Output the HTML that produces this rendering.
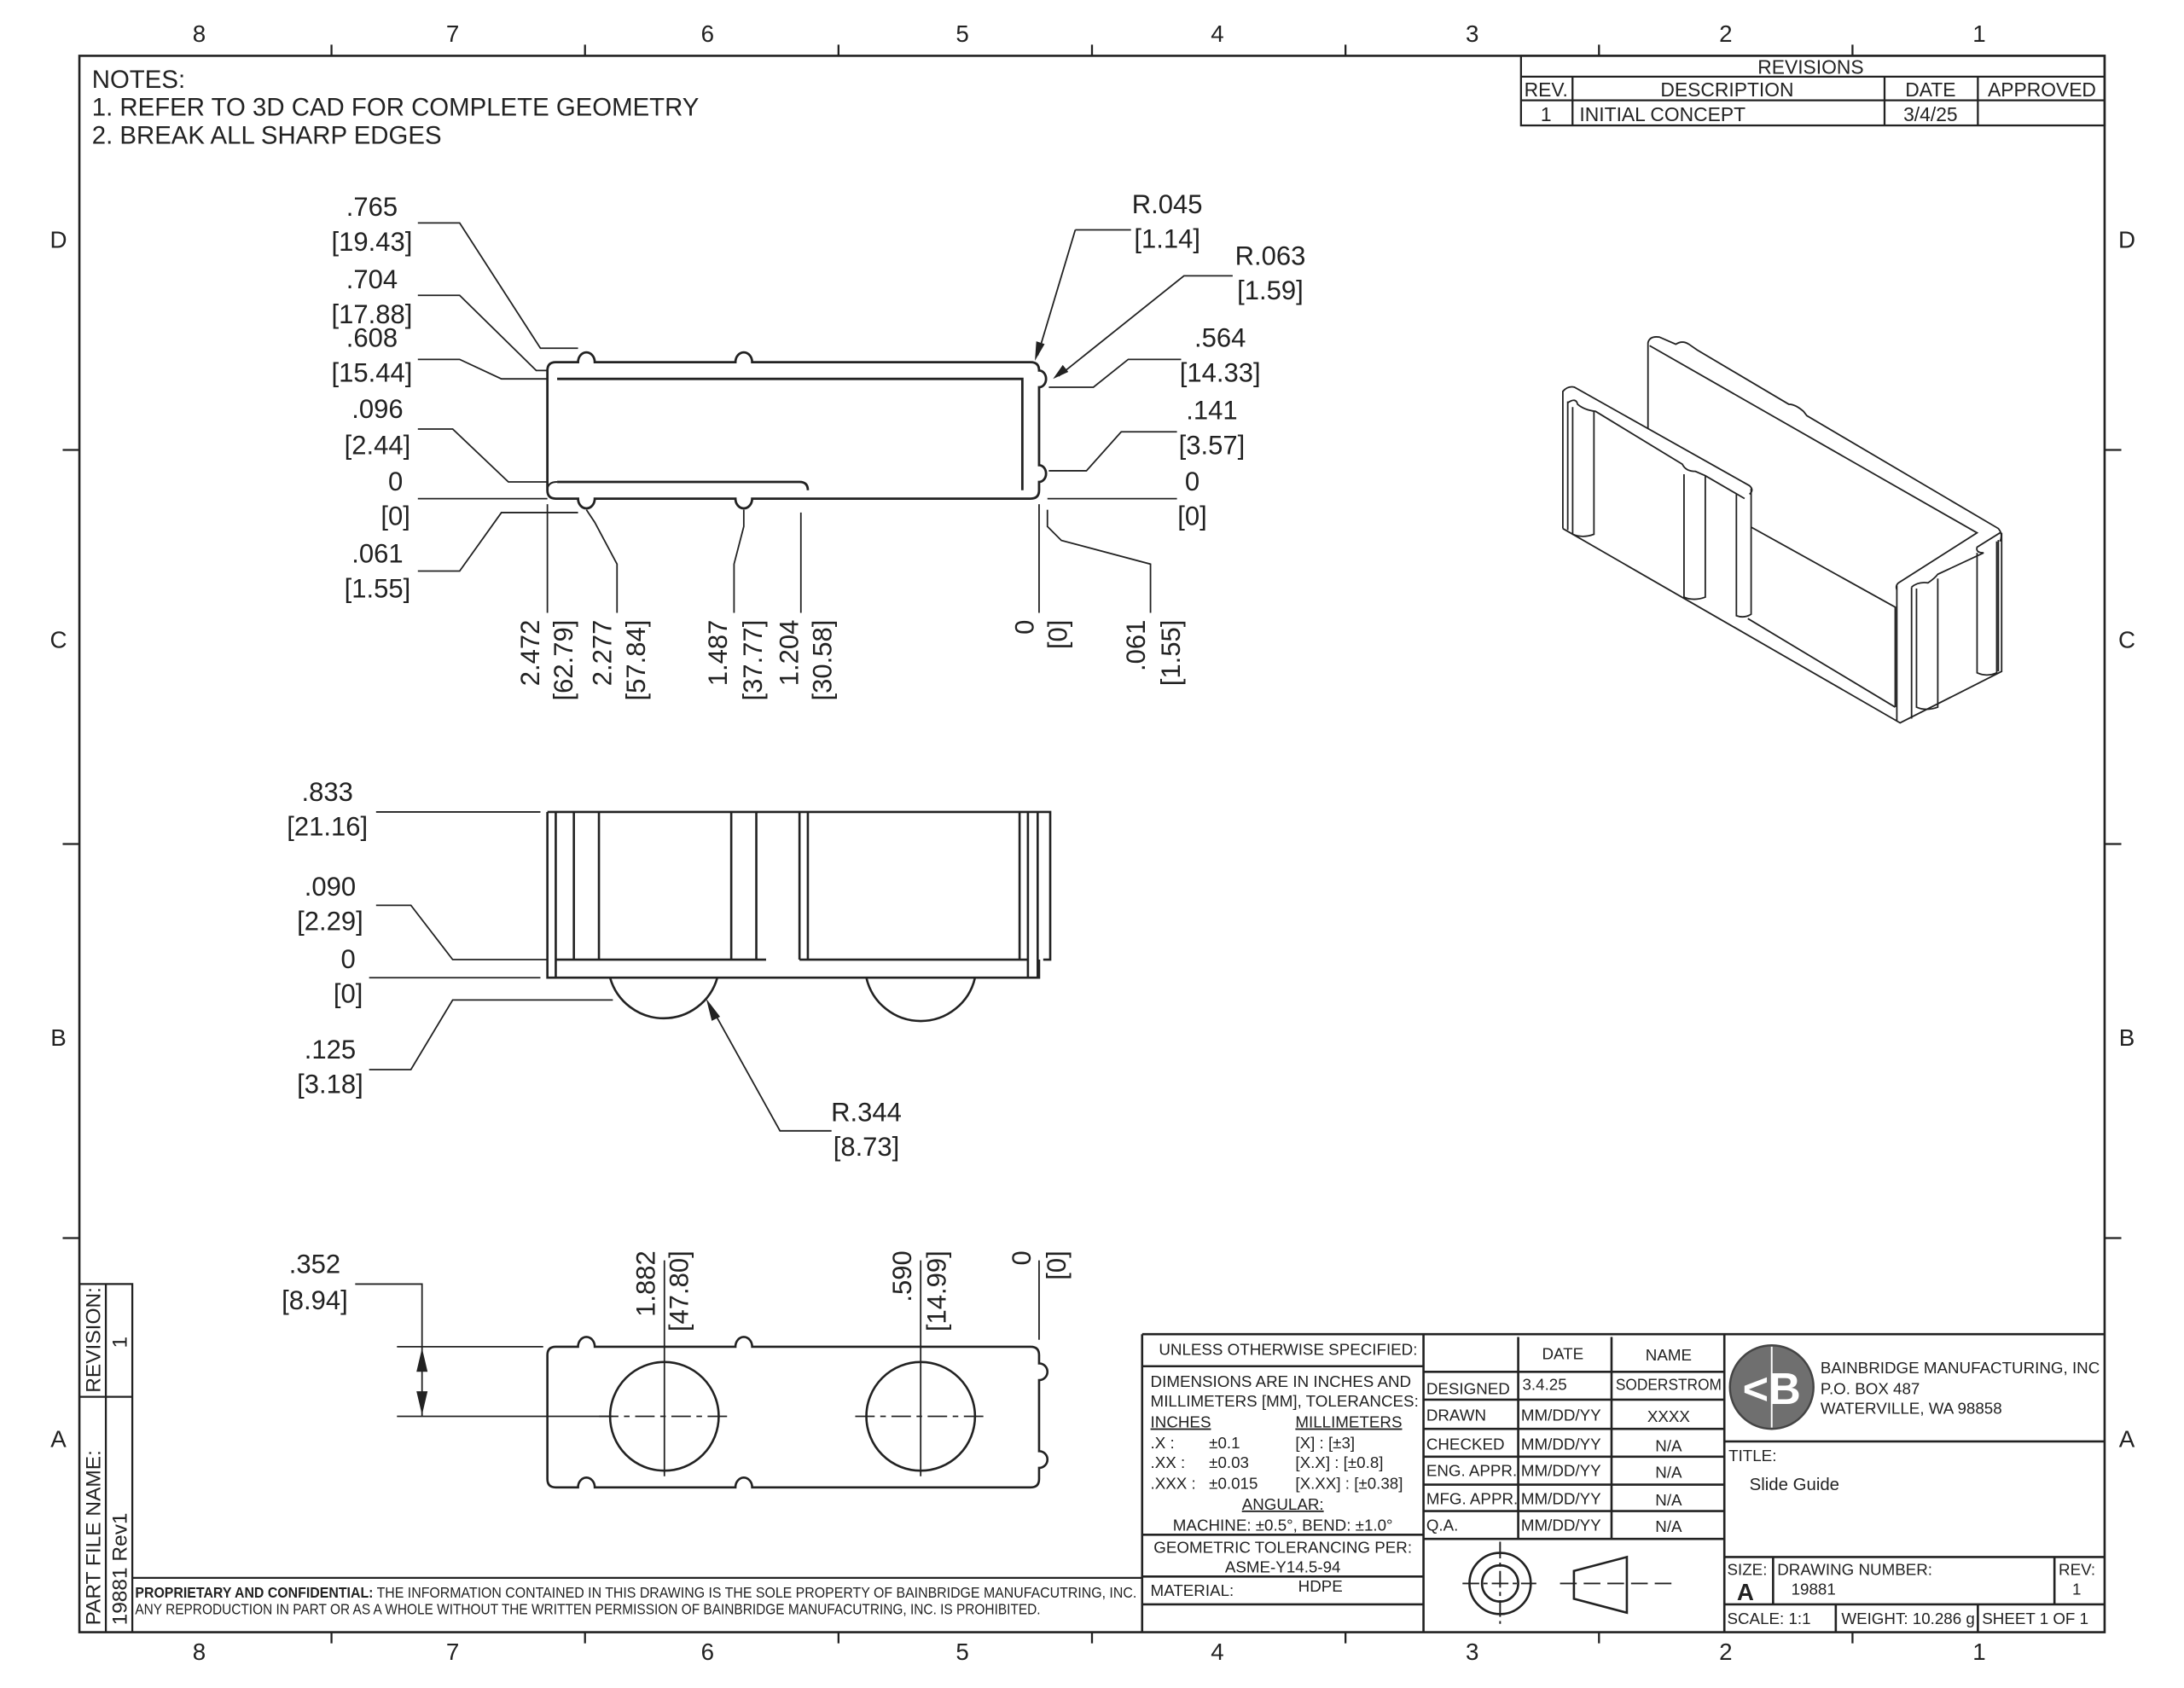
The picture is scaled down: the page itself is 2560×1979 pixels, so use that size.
<!DOCTYPE html>
<html><head><meta charset="utf-8"><style>
html,body{margin:0;padding:0;background:#fff;}
svg{display:block;}
text{font-family:"Liberation Sans",sans-serif;fill:#222;}
</style></head><body>
<svg width="2560" height="1979" viewBox="0 0 1568 1212" xmlns="http://www.w3.org/2000/svg">
<rect width="1568" height="1212" fill="#fff"/>
<g stroke="#222" fill="none" stroke-width="1.4">
<rect x="57" y="40" width="1454" height="1132" stroke-width="1.6"/>
<path d="M238 32V40M420 32V40M602 32V40M784 32V40M966 32V40M1148 32V40M1330 32V40M238 1172V1180M420 1172V1180M602 1172V1180M784 1172V1180M966 1172V1180M1148 1172V1180M1330 1172V1180M45 323H57M45 606H57M45 889H57M1511 323H1523M1511 606H1523M1511 889H1523"/>
<rect x="1092" y="40" width="419" height="50"/>
<path d="M1092 55H1511M1092 72H1511M1129 55V90M1353 55V90M1420 55V90"/>
</g>
<g font-size="17" text-anchor="middle">
<text x="143" y="30">8</text><text x="325" y="30">7</text><text x="508" y="30">6</text><text x="691" y="30">5</text><text x="874" y="30">4</text><text x="1057" y="30">3</text><text x="1239" y="30">2</text><text x="1421" y="30">1</text>
<text x="143" y="1192">8</text><text x="325" y="1192">7</text><text x="508" y="1192">6</text><text x="691" y="1192">5</text><text x="874" y="1192">4</text><text x="1057" y="1192">3</text><text x="1239" y="1192">2</text><text x="1421" y="1192">1</text>
<text x="42" y="178">D</text><text x="42" y="465">C</text><text x="42" y="751">B</text><text x="42" y="1039">A</text>
<text x="1527" y="178">D</text><text x="1527" y="465">C</text><text x="1527" y="751">B</text><text x="1527" y="1039">A</text>
</g>
<g font-size="14">
<text x="1300" y="53" text-anchor="middle">REVISIONS</text>
<text x="1110" y="69" text-anchor="middle">REV.</text><text x="1240" y="69" text-anchor="middle">DESCRIPTION</text><text x="1386" y="69" text-anchor="middle">DATE</text><text x="1466" y="69" text-anchor="middle">APPROVED</text>
<text x="1110" y="87" text-anchor="middle">1</text><text x="1134" y="87">INITIAL CONCEPT</text><text x="1386" y="87" text-anchor="middle">3/4/25</text>
</g>
<g font-size="18">
<text x="66" y="63">NOTES:</text>
<text x="66" y="83">1.  REFER TO 3D CAD FOR COMPLETE GEOMETRY</text>
<text x="66" y="103">2.  BREAK ALL SHARP EDGES</text>
</g>

<!-- TOP VIEW -->
<g stroke="#222" fill="none" stroke-width="1.7">
<path d="M399 260H415A6 7 0 0 1 427 260H528A6 7 0 0 1 540 260H740Q746 260 746 266 A5 6 0 0 1 746 278 L746 334 A5 6 0 0 1 746 346 L746 352Q746 358 740 358H540A6 7 0 0 1 528 358H427A6 7 0 0 1 415 358H399Q393 358 393 352V266Q393 260 399 260Z"/>
<path d="M400 272H734V352"/>
<path d="M400 346H574Q580 346 580 352"/>
<path d="M393 352Q393 346 400 346" stroke-width="1.2"/>
</g>
<g stroke="#222" fill="none" stroke-width="1.1">
<path d="M300 160H330L388 250H415"/>
<path d="M300 212H330L385 266H393"/>
<path d="M300 258H330L360 272H393"/>
<path d="M300 308H325L365 346H393"/>
<path d="M300 358H393"/>
<path d="M300 410H330L360 368H415"/>
<path d="M393 362V440M421 366L427 375 443 405V440M534 366V378L527 405V440M575 368V440M746 362V440M752 366V378L762 388 826 405V440"/>
<path d="M772 165H812M772 165L745 255"/>
<path d="M885 198H850L760 270"/>
<path d="M848 258H810L785 278H753"/>
<path d="M845 310H805L780 338H753"/>
<path d="M752 358H845"/>
</g>
<path d="M743 259L744 245 750 247Z" fill="#222"/>
<path d="M756 272L763 262 767 267Z" fill="#222"/>
<g font-size="19" text-anchor="middle">
<text x="267" y="155">.765</text><text x="267" y="180">[19.43]</text>
<text x="267" y="207">.704</text><text x="267" y="232">[17.88]</text>
<text x="267" y="249">.608</text><text x="267" y="274">[15.44]</text>
<text x="271" y="300">.096</text><text x="271" y="326">[2.44]</text>
<text x="284" y="352">0</text><text x="284" y="377">[0]</text>
<text x="271" y="404">.061</text><text x="271" y="429">[1.55]</text>
<text x="838" y="153">R.045</text><text x="838" y="178">[1.14]</text>
<text x="912" y="190">R.063</text><text x="912" y="215">[1.59]</text>
<text x="876" y="249">.564</text><text x="876" y="274">[14.33]</text>
<text x="870" y="301">.141</text><text x="870" y="326">[3.57]</text>
<text x="856" y="352">0</text><text x="856" y="377">[0]</text>
</g>
<g font-size="19" text-anchor="end">
<text transform="translate(387,445) rotate(-90)">2.472</text>
<text transform="translate(411,445) rotate(-90)">[62.79]</text>
<text transform="translate(439,445) rotate(-90)">2.277</text>
<text transform="translate(463,445) rotate(-90)">[57.84]</text>
<text transform="translate(522,445) rotate(-90)">1.487</text>
<text transform="translate(547,445) rotate(-90)">[37.77]</text>
<text transform="translate(573,445) rotate(-90)">1.204</text>
<text transform="translate(597,445) rotate(-90)">[30.58]</text>
<text transform="translate(742,445) rotate(-90)">0</text>
<text transform="translate(766,445) rotate(-90)">[0]</text>
<text transform="translate(822,445) rotate(-90)">.061</text>
<text transform="translate(847,445) rotate(-90)">[1.55]</text>
</g>

<!-- SIDE VIEW -->
<g stroke="#222" fill="none" stroke-width="1.6">
<path d="M393 583H754V689H749M393 583V702H746V689"/>
<path d="M399 583V702M412 583V689M430 583V689M525 583V689M543 583V689M574 583V689M580 583V689M732 583V689M738 583V702M745 583V702"/>
<path d="M399 689H550M574 689H738"/>
<path d="M438 702A40 40 0 0 0 515 702M622 702A40 40 0 0 0 700 702"/>
</g>
<g stroke="#222" fill="none" stroke-width="1.1">
<path d="M270 583H388"/>
<path d="M270 650H295L325 689H393"/>
<path d="M265 702H388"/>
<path d="M265 768H295L325 718H440"/>
<path d="M597 812H560L510 722"/>
</g>
<path d="M507 717L517 730 511 733Z" fill="#222"/>
<g font-size="19" text-anchor="middle">
<text x="235" y="575">.833</text><text x="235" y="600">[21.16]</text>
<text x="237" y="643">.090</text><text x="237" y="668">[2.29]</text>
<text x="250" y="695">0</text><text x="250" y="720">[0]</text>
<text x="237" y="760">.125</text><text x="237" y="785">[3.18]</text>
<text x="622" y="805">R.344</text><text x="622" y="830">[8.73]</text>
</g>

<!-- BOTTOM VIEW -->
<g stroke="#222" fill="none" stroke-width="1.6">
<path d="M399 967H415A6 7 0 0 1 427 967H528A6 7 0 0 1 540 967H740Q746 967 746 973V979A6 6 0 0 1 746 991V1042A6 6 0 0 1 746 1054V1062Q746 1068 740 1068H540A6 7 0 0 0 528 1068H427A6 7 0 0 0 415 1068H399Q393 1068 393 1062V973Q393 967 399 967Z"/>
<circle cx="477" cy="1017" r="39"/><circle cx="661" cy="1017" r="39"/>
</g>
<g stroke="#222" fill="none" stroke-width="1.1">
<path d="M430 1017H525" stroke-dasharray="14 4 4 4"/>
<path d="M614 1017H708" stroke-dasharray="14 4 4 4"/>
<path d="M477 905V1060M661 905V1060M746 905V962"/>
<path d="M255 922H303V1017M285 967H390M285 1017H440"/>
</g>
<path d="M303 968L299 985 307 985ZM303 1016L299 999 307 999Z" fill="#222"/>
<g font-size="19" text-anchor="middle">
<text x="226" y="914">.352</text><text x="226" y="940">[8.94]</text>
</g>
<g font-size="19" text-anchor="end">
<text transform="translate(470,898) rotate(-90)">1.882</text>
<text transform="translate(494,898) rotate(-90)">[47.80]</text>
<text transform="translate(654,898) rotate(-90)">.590</text>
<text transform="translate(679,898) rotate(-90)">[14.99]</text>
<text transform="translate(740,898) rotate(-90)">0</text>
<text transform="translate(765,898) rotate(-90)">[0]</text>
</g>

<!-- ISO VIEW -->
<g transform="translate(1090.3,226.6) scale(0.2351,0.2052)" stroke="#222" fill="none">
<path vector-effect="non-scaling-stroke" stroke-width="1.8" d="M395 395V95Q400 70 430 75L480 100Q500 85 520 100L545 120 825 310Q845 310 870 335L880 350 1465 745Q1480 765 1470 790"/>
<path vector-effect="non-scaling-stroke" stroke-width="1.8" d="M400 105L1400 760 1160 935Q1150 945 1155 960"/>
<path vector-effect="non-scaling-stroke" stroke-width="1.8" d="M1470 760L1400 810Q1395 830 1420 830L1280 905Q1270 920 1250 935Q1220 930 1200 950"/>
<path vector-effect="non-scaling-stroke" stroke-width="1.8" d="M710 740L1150 1020V1370"/>
<path vector-effect="non-scaling-stroke" stroke-width="1.8" d="M135 745V265Q150 245 170 250L705 595Q720 610 705 625"/>
<path vector-effect="non-scaling-stroke" stroke-width="1.8" d="M150 305Q175 285 180 310Q200 330 235 335L500 520Q510 545 540 545L570 560 690 640"/>
<path vector-effect="non-scaling-stroke" stroke-width="1.8" d="M135 745L1165 1425 1475 1245V760"/>
<path vector-effect="non-scaling-stroke" stroke-width="1.8" d="M700 1060L1150 1370"/>
<path vector-effect="non-scaling-stroke" stroke-width="1.8" d="M150 300V750M165 320V765Q195 780 230 765V335"/>
<path vector-effect="non-scaling-stroke" stroke-width="1.8" d="M505 555V985Q535 1000 570 985V560"/>
<path vector-effect="non-scaling-stroke" stroke-width="1.8" d="M665 625V1050Q690 1060 710 1045V605"/>
<path vector-effect="non-scaling-stroke" stroke-width="1.8" d="M1155 945V1420M1200 950V1410M1215 955V1370Q1245 1385 1280 1370V920"/>
<path vector-effect="non-scaling-stroke" stroke-width="1.8" d="M1400 830V1250Q1430 1265 1460 1250V790M1465 785V1245"/>
</g>

<!-- LEFT STRIP -->
<g stroke="#222" fill="none" stroke-width="1.4">
<path d="M57 922H95V1172M76 922V1172M57 1003H95"/>
<path d="M95 1133H820"/>
</g>
<g font-size="15">
<text transform="translate(72,1000) rotate(-90)">REVISION:</text>
<text transform="translate(91,968) rotate(-90)">1</text>
<text transform="translate(72,1167) rotate(-90)">PART FILE NAME:</text>
<text transform="translate(91,1167) rotate(-90)">19881 Rev1</text>
</g>
<g font-size="10.5">
<text x="97" y="1147" textLength="719" lengthAdjust="spacingAndGlyphs"><tspan font-weight="bold">PROPRIETARY AND CONFIDENTIAL:</tspan> THE INFORMATION CONTAINED IN THIS DRAWING IS THE SOLE PROPERTY OF BAINBRIDGE MANUFACUTRING, INC.</text>
<text x="97" y="1159" textLength="650" lengthAdjust="spacingAndGlyphs">ANY REPRODUCTION IN PART OR AS A WHOLE WITHOUT THE WRITTEN PERMISSION OF BAINBRIDGE MANUFACUTRING, INC. IS PROHIBITED.</text>
</g>

<!-- TITLE BLOCK -->
<g stroke="#222" fill="none" stroke-width="1.6">
<path d="M820 958H1511M820 958V1172M1022 958V1172M1238 958V1172"/>
<path d="M820 981H1022M820 1102H1022M820 1132H1022M820 1152H1022"/>
<path d="M1090 960V1105M1157 960V1105M1022 985H1238M1022 1005H1238M1022 1026H1238M1022 1046H1238M1022 1066H1238M1022 1085H1238M1022 1105H1238"/>
<path d="M1238 1035H1511M1238 1118H1511M1238 1152H1511M1273 1118V1152M1475 1118V1152M1318 1152V1172M1420 1152V1172"/>
<circle cx="1077" cy="1137" r="22"/><circle cx="1077" cy="1137" r="13"/>
<path d="M1130 1128L1168 1118V1158L1130 1148Z"/>
</g>
<g stroke="#222" stroke-width="1.2" fill="none">
<path d="M1077 1107V1166M1050 1137H1103" stroke-dasharray="12 3 3 3"/>
<path d="M1120 1137H1200" stroke-dasharray="12 5"/>
</g>
<g font-size="11.5">
<text x="832" y="973">UNLESS OTHERWISE SPECIFIED:</text>
<text x="826" y="996">DIMENSIONS ARE IN INCHES AND</text>
<text x="826" y="1010">MILLIMETERS [MM], TOLERANCES:</text>
<text x="826" y="1025" text-decoration="underline">INCHES</text><text x="930" y="1025" text-decoration="underline">MILLIMETERS</text>
<text x="826" y="1040">.X :</text><text x="868" y="1040">±0.1</text><text x="930" y="1040">[X]     : [±3]</text>
<text x="826" y="1054">.XX :</text><text x="868" y="1054">±0.03</text><text x="930" y="1054">[X.X]  : [±0.8]</text>
<text x="826" y="1069">.XXX :</text><text x="868" y="1069">±0.015</text><text x="930" y="1069">[X.XX] : [±0.38]</text>
<text x="921" y="1084" text-anchor="middle" text-decoration="underline">ANGULAR:</text>
<text x="921" y="1099" text-anchor="middle">MACHINE: ±0.5°, BEND: ±1.0°</text>
<text x="921" y="1115" text-anchor="middle">GEOMETRIC TOLERANCING PER:</text>
<text x="921" y="1129" text-anchor="middle">ASME-Y14.5-94</text>
<text x="826" y="1146">MATERIAL:</text><text x="948" y="1143" text-anchor="middle">HDPE</text>
<text x="1122" y="976" text-anchor="middle">DATE</text><text x="1198" y="977" text-anchor="middle">NAME</text>
<text x="1024" y="1001">DESIGNED</text><text x="1093" y="998">3.4.25</text><text x="1160" y="998" textLength="76" lengthAdjust="spacingAndGlyphs">SODERSTROM</text>
<text x="1024" y="1020">DRAWN</text><text x="1092" y="1020">MM/DD/YY</text><text x="1198" y="1021" text-anchor="middle">XXXX</text>
<text x="1024" y="1041">CHECKED</text><text x="1092" y="1041">MM/DD/YY</text><text x="1198" y="1042" text-anchor="middle">N/A</text>
<text x="1024" y="1060">ENG. APPR.</text><text x="1092" y="1060">MM/DD/YY</text><text x="1198" y="1061" text-anchor="middle">N/A</text>
<text x="1024" y="1080">MFG. APPR.</text><text x="1092" y="1080">MM/DD/YY</text><text x="1198" y="1081" text-anchor="middle">N/A</text>
<text x="1024" y="1099">Q.A.</text><text x="1092" y="1099">MM/DD/YY</text><text x="1198" y="1100" text-anchor="middle">N/A</text>
<text x="1307" y="986">BAINBRIDGE MANUFACTURING, INC</text>
<text x="1307" y="1001">P.O. BOX 487</text>
<text x="1307" y="1015">WATERVILLE, WA 98858</text>
<text x="1241" y="1049">TITLE:</text>
<text x="1256" y="1070" font-size="12.5">Slide Guide</text>
<text x="1240" y="1131">SIZE:</text><text x="1276" y="1131">DRAWING NUMBER:</text><text x="1478" y="1131">REV:</text>
<text x="1286" y="1145">19881</text><text x="1491" y="1145" text-anchor="middle">1</text>
<text x="1240" y="1166">SCALE: 1:1</text><text x="1322" y="1166">WEIGHT: 10.286 g</text><text x="1423" y="1166">SHEET 1 OF 1</text>
</g>
<text x="1247" y="1149" font-size="17" font-weight="bold">A</text>
<circle cx="1272" cy="996" r="30" fill="#6f6f6f" stroke="#444" stroke-width="1.5"/>
<path d="M1272 967V1025" stroke="#fff" stroke-width="1.2"/>
<text x="1272" y="1008" font-size="32" font-weight="bold" text-anchor="middle" style="fill:#fff">&lt;B</text>
</svg>
</body></html>
